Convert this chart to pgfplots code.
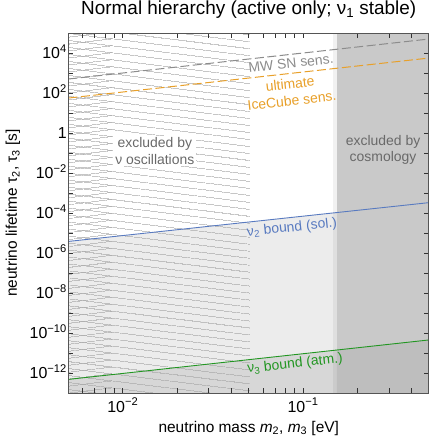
\documentclass[border=0pt]{standalone}
\usepackage{fontspec}
\setmainfont{Liberation Sans}
\usepackage{pgfplots}
\pgfplotsset{compat=1.18}
\usetikzlibrary{patterns.meta}

\definecolor{solblue}{RGB}{88,122,192}
\definecolor{atmgreen}{RGB}{34,150,34}
\definecolor{icorange}{RGB}{232,160,42}
\definecolor{sngray}{RGB}{140,140,140}
\definecolor{txtgray}{RGB}{105,105,105}
\definecolor{hatchgray}{RGB}{168,168,168}
\definecolor{axisgray}{RGB}{85,85,85}
\definecolor{cosmogray}{RGB}{201,201,201}

\begin{document}
\begin{tikzpicture}
\useasboundingbox (-68.5bp,-43bp) rectangle (360.5bp,393bp);
\begin{axis}[
  at={(0,0)}, anchor=south west,
  scale only axis, width=360.5bp, height=360bp,
  xmode=log, ymode=log,
  xmin=0.005, xmax=0.5, ymin=1e-13, ymax=1e5,
  axis on top,
  axis line style={line width=1bp, draw=axisgray},
  tick align=inside,
  major tick length=5bp, minor tick length=5bp,
  every tick/.style={line width=0.8bp, black!80},
  xtick={0.01,0.1},
  xticklabels={10\textsuperscript{−2},10\textsuperscript{−1}},
  minor xtick={0.005,0.006,0.007,0.008,0.009,0.02,0.03,0.04,0.05,0.06,0.07,0.08,0.09,0.2,0.3,0.4,0.5},
  ytick={1e-12,1e-10,1e-8,1e-6,1e-4,1e-2,1,1e2,1e4},
  yticklabels={10\textsuperscript{−12},10\textsuperscript{−10},10\textsuperscript{−8},10\textsuperscript{−6},10\textsuperscript{−4},10\textsuperscript{−2},1,10\textsuperscript{2},10\textsuperscript{4}},
  minor ytick={1e-13,1e-11,1e-9,1e-7,1e-5,1e-3,1e-1,1e1,1e3,1e5},
  ticklabel style={font=\fontsize{16}{16}\selectfont, inner sep=0pt},
  xticklabel style={anchor=base, yshift=-19bp},
  yticklabel style={anchor=base east, xshift=-1.5bp, yshift=-5.7bp},
  title={Normal hierarchy (active only; ν\textsubscript{1} stable)},
  title style={font=\fontsize{19}{19}\selectfont, at={(0.5,1)}, anchor=base, yshift=13bp, inner sep=0pt},
  xlabel={neutrino mass \textit{m}\textsubscript{2}, \textit{m}\textsubscript{3} [eV]},
  ylabel={neutrino lifetime τ\textsubscript{2}, τ\textsubscript{3} [s]},
  label style={font=\fontsize{15.5}{15.5}\selectfont, inner sep=0pt},
  xlabel style={at={(0.5,0)}, anchor=base, yshift=-39bp},
  ylabel style={at={(0,0.5)}, anchor=center, yshift=55.5bp},
]
% region below the solar (nu_2) bound
\addplot[draw=none, fill=black, fill opacity=0.075]
  coordinates {(0.005,1e-13) (0.005,3.8e-6) (0.5,3.3e-4) (0.5,1e-13)};
% region below the atmospheric (nu_3) bound
\addplot[draw=none, fill=black, fill opacity=0.09]
  coordinates {(0.005,1e-13) (0.005,4.8e-13) (0.5,4.5e-11) (0.5,1e-13)};
% cosmological mass limits
\addplot[draw=none, fill=black, fill opacity=0.055]
  coordinates {(0.147,1e-13) (0.147,1e5) (0.154,1e5) (0.154,1e-13)};
\addplot[draw=none, fill=cosmogray]
  coordinates {(0.154,1e-13) (0.154,1e5) (0.5,1e5) (0.5,1e-13)};
\addplot[draw=none, fill=black, fill opacity=0.05]
  coordinates {(0.154,1e-13) (0.154,1.45e-11) (0.5,4.5e-11) (0.5,1e-13)};
% masses forbidden by oscillation data
\addplot[draw=none, pattern={Lines[angle=-7, distance=6.8bp, line width=0.5bp]}, pattern color=hatchgray]
  coordinates {(0.005,1e-13) (0.005,1e5) (0.0508,1e5) (0.0508,1e-13)};
\addplot[draw=none, pattern={Lines[angle=7, distance=6.8bp, line width=0.5bp]}, pattern color=hatchgray]
  coordinates {(0.005,1e-13) (0.005,1e5) (0.0087,1e5) (0.0087,1e-13)};
% sensitivities
\addplot[sngray, line width=1bp, dash pattern=on 9bp off 3.5bp]
  coordinates {(0.005,500) (0.5,5e4)};
\addplot[icorange, line width=1bp, dash pattern=on 9bp off 3.5bp]
  coordinates {(0.005,56) (0.5,5600)};
% bounds
\addplot[solblue, line width=0.9bp] coordinates {(0.005,3.8e-6) (0.5,3.3e-4)};
\addplot[atmgreen, line width=0.9bp] coordinates {(0.005,4.8e-13) (0.5,4.5e-11)};

\node[text=sngray, rotate=6.3, inner sep=0pt, font=\fontsize{14}{14}\selectfont] at (axis cs:0.0858,3100) {MW SN sens.};
\node[text=icorange, rotate=6.3, inner sep=0pt, align=center, font=\fontsize{14}{17}\selectfont] at (axis cs:0.0858,112) {ultimate\\IceCube sens.};
\node[text=txtgray, fill=white, inner sep=2bp, align=center, font=\fontsize{14}{16.5}\selectfont] at (axis cs:0.01506,0.126) {excluded by\\ν oscillations};
\node[text=txtgray, align=center, font=\fontsize{14}{16.5}\selectfont] at (axis cs:0.278,0.14) {excluded by\\cosmology};
\node[text=solblue, rotate=6, font=\fontsize{14}{14}\selectfont] at (axis cs:0.0869,1.78e-5) {ν\textsubscript{2} bound (sol.)};
\node[text=atmgreen, rotate=6.3, font=\fontsize{14}{14}\selectfont] at (axis cs:0.0903,2.8e-12) {ν\textsubscript{3} bound (atm.)};
\end{axis}
\end{tikzpicture}
\end{document}
